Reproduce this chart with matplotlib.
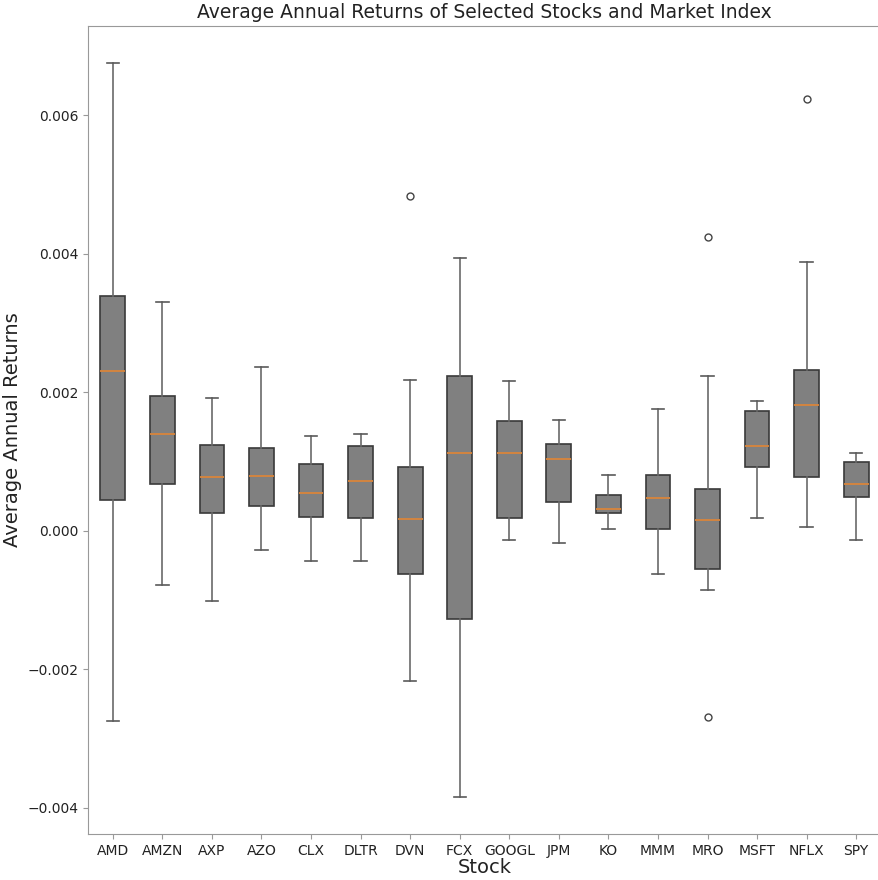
import matplotlib
matplotlib.use("Agg")
import matplotlib.pyplot as plt

# values (units of 1e-3)
stocks = ['AMD', 'AMZN', 'AXP', 'AZO', 'CLX', 'DLTR', 'DVN', 'FCX',
          'GOOGL', 'JPM', 'KO', 'MMM', 'MRO', 'MSFT', 'NFLX', 'SPY']
whis_lo = [-2.75, -0.79, -1.01, -0.28, -0.43, -0.43, -2.17, -3.85,
           -0.13, -0.18, 0.02, -0.63, -0.85, 0.18, 0.05, -0.13]
q1 = [0.44, 0.675, 0.26, 0.36, 0.20, 0.19, -0.63, -1.27,
      0.19, 0.41, 0.25, 0.02, -0.55, 0.92, 0.77, 0.49]
medians = [2.30, 1.40, 0.78, 0.79, 0.55, 0.72, 0.17, 1.12,
           1.13, 1.03, 0.31, 0.47, 0.16, 1.22, 1.82, 0.675]
q3 = [3.39, 1.95, 1.24, 1.20, 0.97, 1.23, 0.92, 2.24,
      1.59, 1.26, 0.52, 0.81, 0.61, 1.73, 2.32, 1.00]
whis_hi = [6.76, 3.30, 1.92, 2.36, 1.37, 1.40, 2.18, 3.94,
           2.16, 1.60, 0.80, 1.76, 2.24, 1.88, 3.88, 1.13]
outliers = {'DVN': [4.83], 'MRO': [4.24, -2.69], 'NFLX': [6.24]}

stats = []
for i, name in enumerate(stocks):
    stats.append({
        'label': name,
        'whislo': whis_lo[i] / 1000,
        'q1': q1[i] / 1000,
        'med': medians[i] / 1000,
        'q3': q3[i] / 1000,
        'whishi': whis_hi[i] / 1000,
        'fliers': [v / 1000 for v in outliers.get(name, [])],
    })

fig = plt.figure(figsize=(8.79, 8.80), dpi=100)
ax = fig.add_axes([88 / 879, 46 / 880, 793 / 879, 808 / 880])

ax.bxp(stats, widths=0.5, patch_artist=True,
       boxprops=dict(facecolor='#808080', edgecolor='#3a3a3a', linewidth=1.2),
       whiskerprops=dict(color='#6a6a6a', linewidth=1.2),
       capprops=dict(color='#5a5a5a', linewidth=1.2),
       medianprops=dict(color='#d9853b', linewidth=1.3),
       flierprops=dict(marker='o', markerfacecolor='none',
                       markeredgecolor='#444444', markersize=5))

for side in ['left', 'bottom', 'top', 'right']:
    ax.spines[side].set_color('#999999')
ax.tick_params(colors='#999999', labelcolor='#222222', labelsize=10)

ax.set_title('Average Annual Returns of Selected Stocks and Market Index',
             fontsize=13.5, color='#222222')
ax.set_xlabel('Stock', fontsize=14, color='#222222', labelpad=0)
ax.set_ylabel('Average Annual Returns', fontsize=14, color='#222222')

fig.savefig('out.png', dpi=100)
